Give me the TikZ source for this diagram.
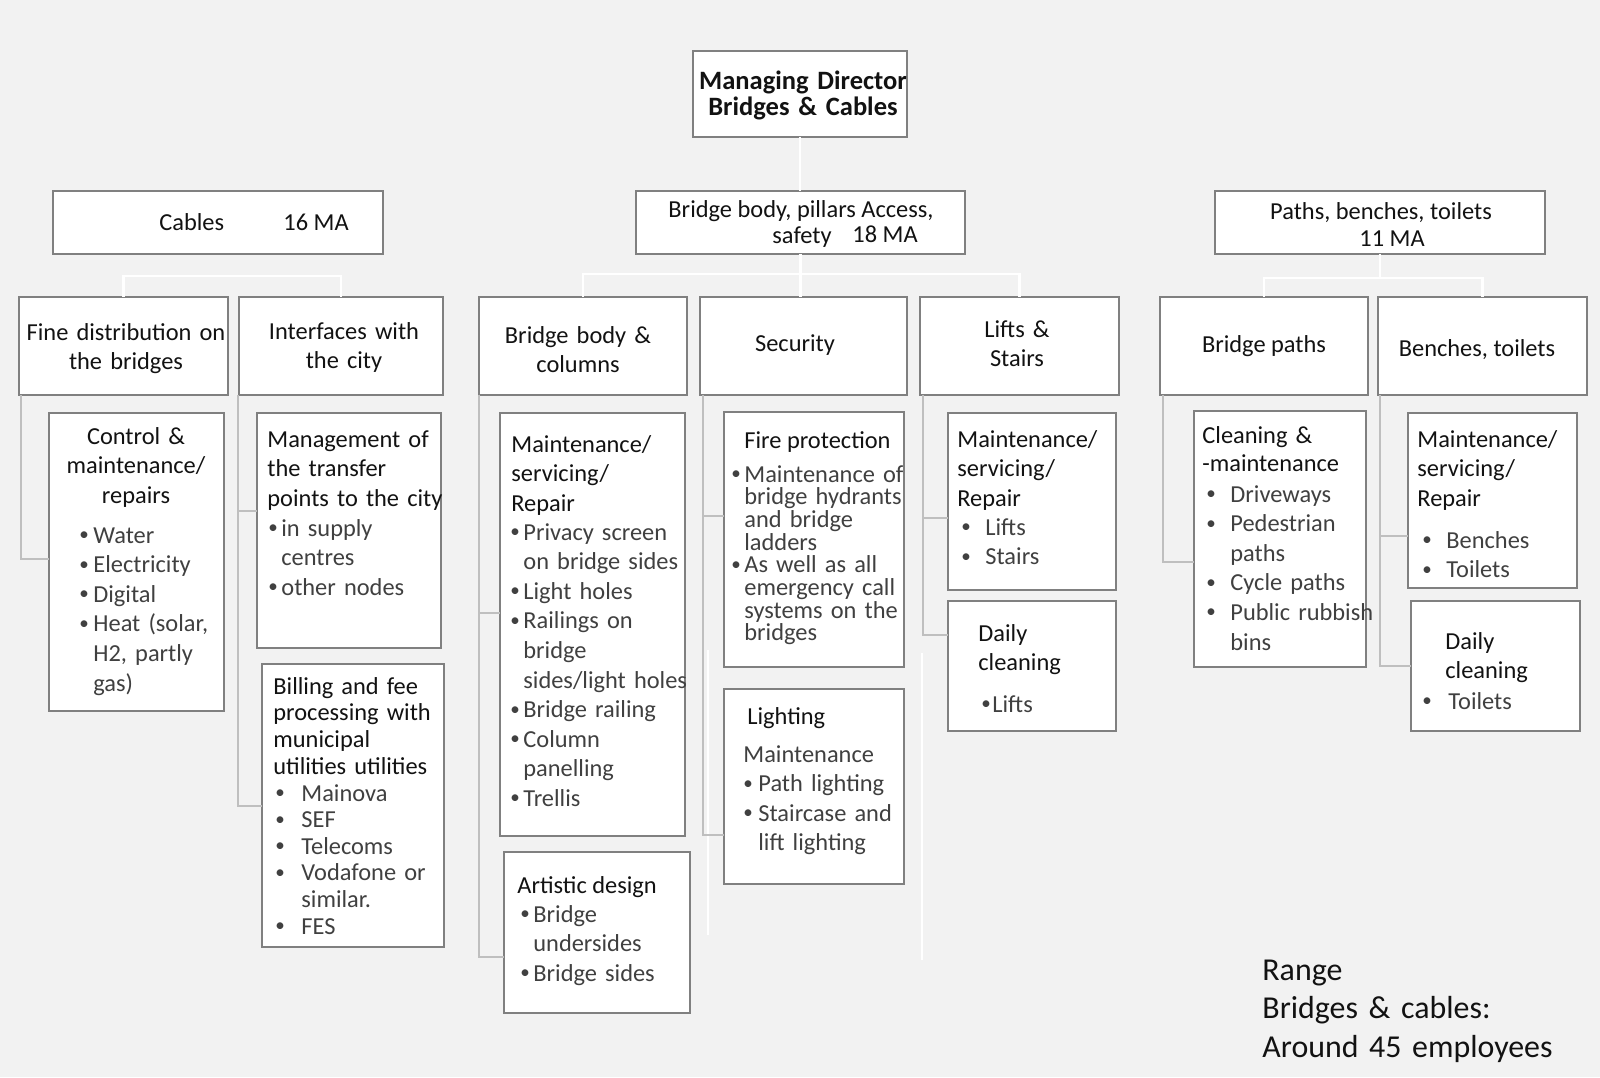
\documentclass[tikz,border=0pt]{standalone}
\usepackage{fontspec}
\usepackage{graphicx}
\setmainfont{Carlito}
\definecolor{bgc}{HTML}{F2F2F2}
\definecolor{boxc}{HTML}{808080}
\definecolor{gconn}{HTML}{BFBFBF}
\definecolor{headc}{HTML}{121212}
\definecolor{itemc}{HTML}{404040}
\newcommand\fN{\fontsize{12.2}{14.8}\selectfont}
\newcommand\bult[1]{\makebox[#1][l]{\raisebox{0.1em}{\scalebox{0.78}{•}}}}
\newcommand\indt[1]{\hspace*{#1}}
\newcommand\mkbox[5]{%
  \pgfmathsetmacro\bxw{(#4-#2)/2}%
  \pgfmathsetmacro\bxh{(#5-#3)/2}%
  \node[box,minimum width=\bxw pt,minimum height=\bxh pt] (#1) at ({(#2+#4)/2},{(#3+#5)/2}) {};}
\tikzset{
  box/.style={rectangle,draw=boxc,line width=1pt,fill=white,inner sep=0pt,outer sep=0pt},
  wline/.style={draw=white,line width=1.1pt},
  gline/.style={draw=gconn,line width=1pt},
  ctxt/.style={anchor=base,align=center,inner sep=0pt,text=headc,font=\fN},
  ltxt/.style={anchor=base west,align=left,inner sep=0pt,text=headc,font=\fN},
  itxt/.style={ltxt,text=itemc},
  stxt/.style={anchor=base west,inner sep=0pt,text=headc,font=\fN},
  sctxt/.style={anchor=base,inner sep=0pt,text=headc,font=\fN},
}
\begin{document}
\begin{tikzpicture}[x=0.5pt,y=-0.5pt]
\useasboundingbox (0,0) rectangle (1600,1077);
\fill[bgc] (0,0) rectangle (1600,1077);

% boxes
\mkbox{md}{693}{51}{907}{137}
\mkbox{cab}{53}{191}{383}{254}
\mkbox{bb}{636}{191}{965}{254}
\mkbox{pbt}{1215}{191}{1545}{254}
\mkbox{fine}{19}{297}{228}{395}
\mkbox{intf}{239}{297}{443}{395}
\mkbox{bbc}{479}{297}{687}{395}
\mkbox{sec}{700}{297}{907}{395}
\mkbox{lift}{920}{297}{1119}{395}
\mkbox{bpath}{1160}{297}{1368}{395}
\mkbox{bench}{1378}{297}{1587}{395}
\mkbox{ctrl}{49}{413}{224}{711}
\mkbox{mgmt}{257}{413}{441}{648}
\mkbox{bill}{262}{664}{444}{947}
\mkbox{mnt}{500}{413}{685}{836}
\mkbox{art}{504}{852}{690}{1013}
\mkbox{fire}{724}{412}{904}{667}
\mkbox{lght}{724}{689}{904}{884}
\mkbox{mlift}{948}{413}{1116}{590}
\mkbox{dlift}{948}{601}{1116}{731}
\mkbox{clean}{1194}{411}{1366}{667}
\mkbox{mbench}{1408}{413}{1577}{588}
\mkbox{dtoil}{1411}{601}{1580}{731}

% white connectors
\coordinate (cabbr) at (0,276);
\coordinate (bbbr) at (0,274);
\coordinate (pbr) at (0,278);
\draw[wline] (md.south) -- (md.south |- bb.north);
\draw[wline] (fine.north) |- (intf.north |- cabbr) -- (intf.north);
\draw[wline] (bbc.north) |- (lift.north |- bbbr) -- (lift.north);
\draw[wline] (bb.south) -- (bb.south |- sec.north);
\draw[wline] (bpath.north) |- (bench.north |- pbr) -- (bench.north);
\draw[wline] (pbt.south) -- (pbt.south |- pbr);
\coordinate (w1a) at (708,650); \coordinate (w1b) at (708,935);
\coordinate (w2a) at (922,653); \coordinate (w2b) at (922,960);
\draw[wline] (w1a) -- (w1b);
\draw[wline] (w2a) -- (w2b);

% grey connectors
\draw[gline] ([xshift=1pt]fine.south west) |- ([yshift=1.5pt]ctrl.west);
\draw[gline] ([xshift=-0.5pt]intf.south west) |- ([yshift=10pt]mgmt.west);
\draw[gline] ([xshift=-0.5pt]intf.south west) |- (bill.west);
\draw[gline] (bbc.south west) |- ([yshift=6pt]mnt.west);
\draw[gline] (bbc.south west) |- ([yshift=-12pt]art.west);
\draw[gline] ([xshift=1.5pt]sec.south west) |- ([yshift=12pt]fire.west);
\draw[gline] ([xshift=1.5pt]sec.south west) |- ([yshift=-24pt]lght.west);
\draw[gline] ([xshift=1.5pt]lift.south west) |- ([yshift=-8pt]mlift.west);
\draw[gline] ([xshift=1.5pt]lift.south west) |- ([yshift=15.5pt]dlift.west);
\draw[gline] ([xshift=1.5pt]bpath.south west) |- ([yshift=-11.5pt]clean.west);
\draw[gline] ([xshift=1pt]bench.south west) |- ([yshift=-17.5pt]mbench.west);
\draw[gline] ([xshift=1pt]bench.south west) |- (dtoil.west);

% level 1 and 2 texts
\node[ctxt,text width=108pt,font=\bfseries\fontsize{13.25}{13}\selectfont] (mdt) at (803,89) {Managing Director\\Bridges \& Cables};
\node[stxt] (cabt1) at (159,230) {Cables};
\node[stxt] (cabt2) at (283,230) {16 MA};
\node[sctxt] (bbt1) at (801,217) {Bridge body, pillars Access,};
\node[stxt] (bbt2) at (772,243) {safety};
\node[stxt] (bbt3) at (852,242) {18 MA};
\node[sctxt] (pbt1) at (1381,219) {Paths, benches, toilets};
\node[sctxt] (pbt2) at (1392,246) {11 MA};

% level 3 texts
\node[ctxt,text width=104pt] (finet) at (126,340) {Fine distribution on\\the bridges};
\node[ctxt,text width=100pt] (intft) at (344,339) {Interfaces with\\the city};
\node[ctxt,text width=100pt] (bbct) at (578,343) {Bridge body \&\\columns};
\node[sctxt] (sect) at (795,351) {Security};
\node[ctxt,text width=98pt] (liftt) at (1017,337) {Lifts \&\\Stairs};
\node[sctxt] (bpatht) at (1264,352) {Bridge paths};
\node[sctxt] (bencht) at (1477,356) {Benches, toilets};

% level 4 texts
\node[ctxt,text width=87pt] (ctrlh) at (136,444) {Control \&\\maintenance/\\repairs};
\node[itxt,text width=76pt] (ctrli) at (79,543) {\bult{7pt}Water\\\bult{7pt}Electricity\\\bult{7pt}Digital\\\bult{7pt}Heat (solar,\\\indt{7pt}H2, partly\\\indt{7pt}gas)};

\node[ltxt,text width=92pt] (mgmth) at (267,447) {Management of\\the transfer\\points to the city};
\node[itxt,text width=88pt] (mgmti) at (268,536) {\bult{6.5pt}in supply\\\indt{6.5pt}centres\\\bult{6.5pt}other nodes};

\node[ltxt,text width=90pt,font=\fontsize{12.2}{13.35}\selectfont] (billh) at (273,694) {Billing and fee\\processing with\\municipal\\utilities utilities};
\node[itxt,text width=90pt,font=\fontsize{12.2}{13.3}\selectfont] (billi) at (275,801) {\bult{13pt}Mainova\\\bult{13pt}SEF\\\bult{13pt}Telecoms\\\bult{13pt}Vodafone or\\\indt{13pt}similar.\\\bult{13pt}FES};

\node[ltxt,text width=88pt] (mnth) at (511,452) {Maintenance/\\servicing/\\Repair};
\node[itxt,text width=92pt] (mnti) at (510,540) {\bult{6.5pt}Privacy screen\\\indt{6.5pt}on bridge sides\\\bult{6.5pt}Light holes\\\bult{6.5pt}Railings on\\\indt{6.5pt}bridge\\\indt{6.5pt}sides/light holes\\\bult{6.5pt}Bridge railing\\\bult{6.5pt}Column\\\indt{6.5pt}panelling\\\bult{6.5pt}Trellis};

\node[stxt] (arth) at (517,893) {Artistic design};
\node[itxt,text width=85pt] (arti) at (520,922) {\bult{6.5pt}Bridge\\\indt{6.5pt}undersides\\\bult{6.5pt}Bridge sides};

\node[stxt] (fireh) at (744,448) {Fire protection};
\node[itxt,text width=92pt,font=\fontsize{12.2}{11.35}\selectfont] (firei) at (731,482) {\bult{6.5pt}Maintenance of\\\indt{6.5pt}bridge hydrants\\\indt{6.5pt}and bridge\\\indt{6.5pt}ladders\\\bult{6.5pt}As well as all\\\indt{6.5pt}emergency call\\\indt{6.5pt}systems on the\\\indt{6.5pt}bridges};

\node[stxt] (lghth) at (747,724) {Lighting};
\node[itxt,text width=88pt] (lghti) at (743,762) {Maintenance\\\bult{7.5pt}Path lighting\\\bult{7.5pt}Staircase and\\\indt{7.5pt}lift lighting};

\node[ltxt,text width=82pt] (mlifth) at (957,447) {Maintenance/\\servicing/\\Repair};
\node[itxt,text width=76pt] (mlifti) at (961,535) {\bult{12pt}Lifts\\\bult{12pt}Stairs};

\node[ltxt,text width=66pt] (dlifth) at (978,641) {Daily\\cleaning};
\node[itxt,text width=64pt] (dlifti) at (981,712) {\bult{5.5pt}Lifts};

\node[ltxt,text width=80pt,font=\fontsize{12.2}{14}\selectfont] (cleanh) at (1202,443) {Cleaning \&\\-maintenance};
\node[itxt,text width=86pt] (cleani) at (1206,502) {\bult{12pt}Driveways\\\bult{12pt}Pedestrian\\\indt{12pt}paths\\\bult{12pt}Cycle paths\\\bult{12pt}Public rubbish\\\indt{12pt}bins};

\node[ltxt,text width=80pt] (mbenchh) at (1417,447) {Maintenance/\\servicing/\\Repair};
\node[itxt,text width=76pt] (mbenchi) at (1422,548) {\bult{12pt}Benches\\\bult{12pt}Toilets};

\node[ltxt,text width=66pt] (dtoilh) at (1445,649) {Daily\\cleaning};
\node[itxt,text width=76pt] (dtoili) at (1422,709) {\bult{13pt}Toilets};

% range note
\node[ltxt,text width=160pt,font=\fontsize{15.95}{19.25}\selectfont] (range) at (1262,980) {Range\\Bridges \& cables:\\Around 45 employees};
\end{tikzpicture}
\end{document}
